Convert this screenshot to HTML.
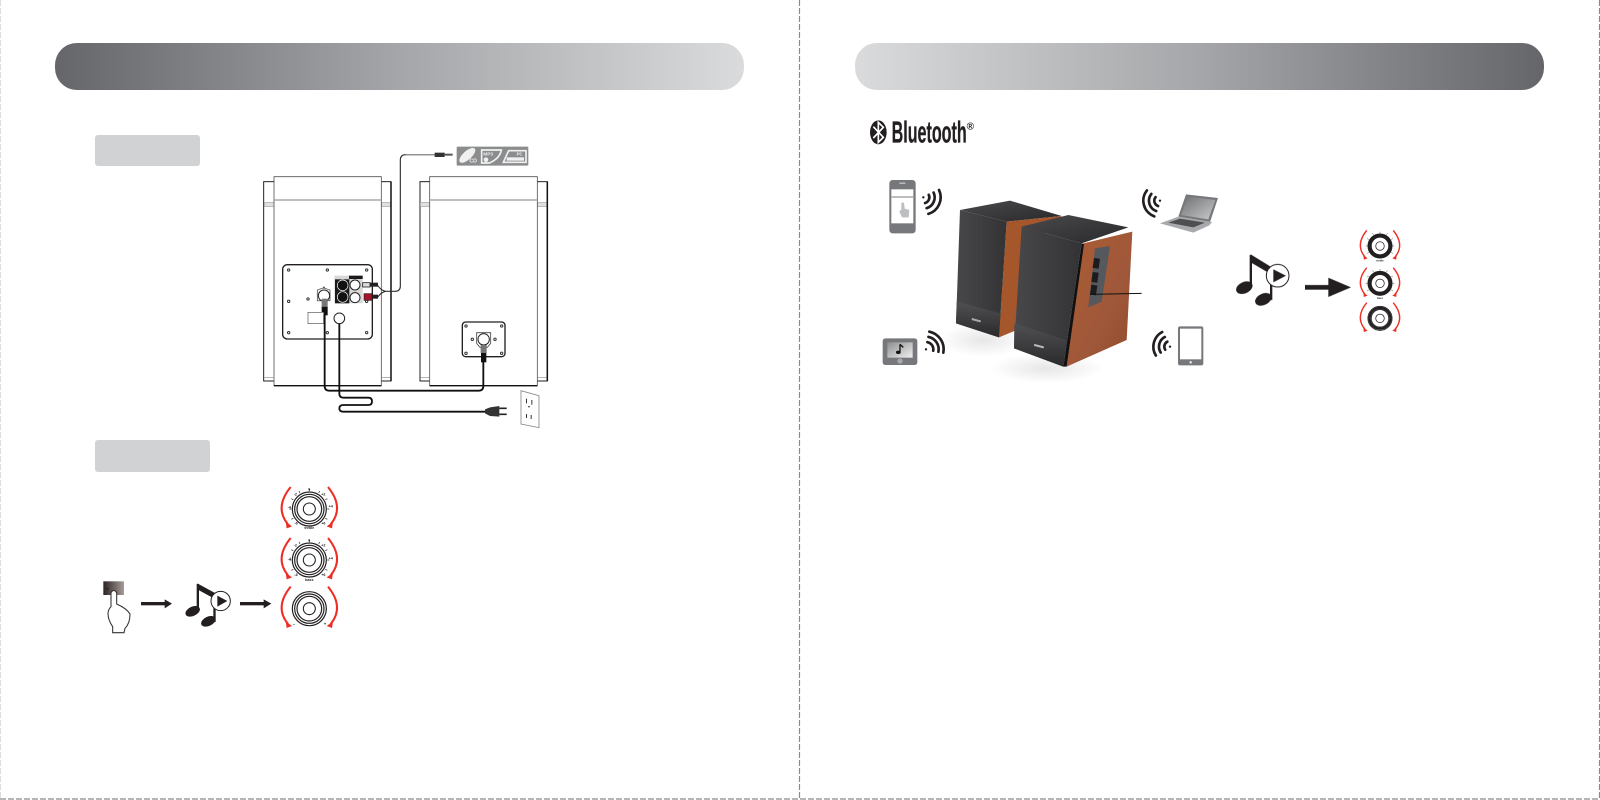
<!DOCTYPE html>
<html><head><meta charset="utf-8"><style>
html,body{margin:0;padding:0;background:#fff;width:1600px;height:800px;overflow:hidden}
svg{display:block;font-family:"Liberation Sans",sans-serif}
.soft{filter:blur(.45px)}
</style></head><body>
<svg width="1600" height="800" viewBox="0 0 1600 800" xmlns="http://www.w3.org/2000/svg">
<defs>
<linearGradient id="hl"><stop offset="0" stop-color="#65666a"/><stop offset=".5" stop-color="#a5a6a9"/><stop offset="1" stop-color="#dadbdc"/></linearGradient>
<linearGradient id="hr"><stop offset="0" stop-color="#dadbdc"/><stop offset=".5" stop-color="#a5a6a9"/><stop offset="1" stop-color="#65666a"/></linearGradient>
<linearGradient id="btn"><stop offset="0" stop-color="#2a2422"/><stop offset="1" stop-color="#a89d99"/></linearGradient>
<linearGradient id="front" x1="0" y1="0" x2="1" y2="0"><stop offset="0" stop-color="#48484a"/><stop offset="1" stop-color="#333335"/></linearGradient>
<linearGradient id="top" x1="0" y1="0" x2="1" y2="1"><stop offset="0" stop-color="#4a4a4d"/><stop offset="1" stop-color="#29292b"/></linearGradient>
<linearGradient id="wood" x1="0" y1="0" x2="1" y2="1"><stop offset="0" stop-color="#ab5c32"/><stop offset=".6" stop-color="#a0583a"/><stop offset="1" stop-color="#8f4c2c"/></linearGradient>
<linearGradient id="bez" x1="0" y1="0" x2="0" y2="1"><stop offset="0" stop-color="#505052"/><stop offset="1" stop-color="#2a2a2c"/></linearGradient>
<linearGradient id="scr" x1="0" y1="0" x2="1" y2="1"><stop offset="0" stop-color="#8d8e90"/><stop offset="1" stop-color="#f0f0f0"/></linearGradient>
<linearGradient id="lap" x1="0" y1="0" x2="1" y2="1"><stop offset="0" stop-color="#6f7072"/><stop offset="1" stop-color="#c9cacc"/></linearGradient>
<radialGradient id="refl"><stop offset="0" stop-color="#e6e6e6"/><stop offset="1" stop-color="#fff"/></radialGradient>
<g id="knob">
 <g fill="none" stroke="#231f20">
  <circle r="51" stroke-width="3.6"/><circle r="44" stroke-width="3.6"/><circle r="37" stroke-width="3.6"/><circle r="18" stroke-width="3.2"/>
 </g>
 <g fill="none" stroke="#ee2e24" stroke-width="6">
  <path d="M-56,-66 Q-106,-5 -64,46"/><path d="M56,-66 Q106,-5 64,46"/>
 </g>
 <g fill="#ee2e24"><polygon points="-71,38 -52,52 -68,58"/><polygon points="71,38 52,52 68,58"/></g>
</g>
<g id="ticks" stroke="#231f20" stroke-width="2">
 <path d="M0,-54V-60M-28,-48L-31,-54M28,-48L31,-54M-48,-28L-54,-31M48,-28L54,-31M-54,0H-60M54,0H60M-48,28L-54,31M48,28L54,31"/>
</g>
</defs>

<rect width="1600" height="800" fill="#fff"/>
<g fill="none" stroke="#8a8a8c" stroke-width="1.2" stroke-dasharray="6 2">
 <path d="M799.5,0V799"/><path d="M0,799H1600"/><path d="M1599.5,0V799"/>
</g>
<path d="M0.5,0V799" stroke="#dcdcdc" stroke-dasharray="6 2" fill="none"/>

<rect x="55" y="43" width="689" height="47" rx="22" fill="url(#hl)"/>
<rect x="855" y="43" width="689" height="47" rx="22" fill="url(#hr)"/>
<rect x="95" y="135" width="105" height="31" rx="3" fill="#d1d2d4"/>
<rect x="95" y="440" width="115" height="32" rx="3" fill="#d1d2d4"/>

<g class="soft" transform="translate(240,130) scale(.33333)">
 <g fill="#fff" stroke="#231f20" stroke-width="3">
  <rect x="71" y="155" width="382" height="598"/>
  <rect x="540" y="155" width="382" height="598"/>
 </g>
 <g stroke="#9a9a9c" stroke-width="2" fill="#e0e0e0">
  <rect x="73" y="218" width="29" height="11"/><rect x="424" y="218" width="28" height="11"/>
  <rect x="541" y="218" width="28" height="11"/><rect x="892" y="218" width="29" height="11"/>
 </g>
 <g fill="#fff" stroke="#555" stroke-width="2.5">
  <path d="M102,767V140H424V767Z"/><path d="M569,767V140H892V767Z"/>
 </g>
 <path d="M102,767H424M569,767H892" stroke="#111" stroke-width="4"/>
 <path d="M102,210H424M569,210H892" stroke="#999" stroke-width="3.5"/>
 <path d="M73,743H102M424,743H452M541,743H569M892,743H921" stroke="#888" stroke-width="2"/>
 <path d="M453,155V753M922,155V753" stroke="#111" stroke-width="4.5"/>
 <rect x="128" y="404" width="269" height="223" rx="14" fill="#fff" stroke="#231f20" stroke-width="4"/>
 <g fill="none" stroke="#333" stroke-width="3">
  <circle cx="146" cy="420" r="3.5"/><circle cx="262" cy="420" r="3.5"/><circle cx="380" cy="420" r="3.5"/>
  <circle cx="146" cy="514" r="3.5"/><circle cx="204" cy="507" r="3.5"/><circle cx="380" cy="514" r="3.5"/>
  <circle cx="146" cy="608" r="3.5"/><circle cx="262" cy="608" r="3.5"/><circle cx="380" cy="608" r="3.5"/>
 </g>
 <rect x="283" y="437" width="85" height="83" fill="#d8d8d8"/>
 <rect x="285" y="448" width="43" height="72" fill="#1a1a1a"/>
 <rect x="327" y="437" width="41" height="10" fill="#1a1a1a"/>
 <circle cx="308" cy="466" r="16" fill="#111" stroke="#fff" stroke-width="2"/>
 <circle cx="308" cy="501" r="16" fill="#111" stroke="#fff" stroke-width="2"/>
 <circle cx="345" cy="465" r="15" fill="#fff" stroke="#222" stroke-width="3"/>
 <circle cx="345" cy="503" r="15" fill="#fff" stroke="#222" stroke-width="3"/>
 <path d="M232,480L250,474L270,480V512H232Z" fill="#fff" stroke="#555" stroke-width="2.5"/>
 <circle cx="252" cy="497" r="17" fill="#fff" stroke="#222" stroke-width="3"/>
 <rect x="250" y="470" width="4" height="4" fill="#222"/>
 <rect x="245" y="506" width="18" height="24" fill="#777"/>
 <rect x="245" y="530" width="18" height="26" fill="#111"/>
 <rect x="204" y="547" width="47" height="34" fill="#fff" stroke="#555" stroke-width="2"/>
 <circle cx="298" cy="565" r="16" fill="#fff" stroke="#222" stroke-width="3"/>
 <rect x="667" y="576" width="128" height="104" rx="10" fill="#fff" stroke="#231f20" stroke-width="4"/>
 <g fill="none" stroke="#333" stroke-width="3">
  <circle cx="678" cy="588" r="3.5"/><circle cx="785" cy="588" r="3.5"/><circle cx="678" cy="670" r="3.5"/><circle cx="785" cy="670" r="3.5"/>
  <circle cx="697" cy="628" r="3.5"/><circle cx="765" cy="628" r="3.5"/>
 </g>
 <path d="M710,608H752V640L742,652H720L710,640Z" fill="#fff" stroke="#444" stroke-width="2.5"/>
 <circle cx="731" cy="628" r="17" fill="#fff" stroke="#222" stroke-width="3"/>
 <rect x="722" y="645" width="18" height="24" fill="#777"/>
 <rect x="723" y="669" width="16" height="28" fill="#111"/>
 <g fill="none" stroke="#111" stroke-width="5.5">
  <path d="M254,555V768Q254,782 268,782H716Q730,782 730,768V695"/>
  <path d="M298,582V790Q298,803 311,803H385Q396,803 396,814Q396,825 385,825H310Q298,825 298,835Q298,845 310,845H740"/>
 </g>
 <path d="M592,74H497Q481,74 481,90V468Q481,484 465,484H440" fill="none" stroke="#333" stroke-width="3.5"/>
 <path d="M592,74H497" stroke="#999" stroke-width="3"/>
 <path d="M440,484Q425,484 412,465M440,484Q425,484 412,503" fill="none" stroke="#222" stroke-width="3"/>
 <rect x="584" y="68" width="30" height="13" fill="#333"/><rect x="614" y="71" width="24" height="6" fill="#555"/>
 <rect x="368" y="458" width="22" height="13" fill="#ddd" stroke="#222" stroke-width="2.5"/>
 <rect x="390" y="458" width="24" height="12" fill="#222"/>
 <rect x="372" y="491" width="24" height="20" fill="#a3142a" stroke="#222" stroke-width="2"/>
 <rect x="396" y="494" width="18" height="12" fill="#222"/>
 <polygon points="735,838 750,832 778,828 778,860 750,858 735,850" fill="#333"/>
 <path d="M778,835H800M778,853H800" stroke="#222" stroke-width="5"/>
 <polygon points="843,782 897,797 897,893 843,882" fill="#fff" stroke="#888" stroke-width="2.5"/>
 <g fill="#333"><rect x="858" y="806" width="3" height="14"/><rect x="874" y="810" width="3" height="14"/><circle cx="867" cy="830" r="2.5"/>
 <rect x="858" y="852" width="3" height="12"/><rect x="872" y="855" width="3" height="12"/></g>
 <rect x="650" y="50" width="215" height="57" rx="3" fill="#8b8c8e"/>
 <ellipse cx="682" cy="76" rx="30" ry="13" transform="rotate(-42 682 76)" fill="#f0f0f0"/>
 <text x="688" y="97" font-size="16" font-weight="700" fill="#f0f0f0">CD</text>
 <path d="M725,60H784Q780,85 748,99H725Z" fill="#8b8c8e" stroke="#f0f0f0" stroke-width="5"/>
 <text x="730" y="76" font-size="14" font-weight="700" fill="#f0f0f0">MP3</text>
 <circle cx="738" cy="89" r="7" fill="#f0f0f0"/>
 <path d="M806,62H858V97H790Z" fill="#8b8c8e" stroke="#f0f0f0" stroke-width="5"/>
 <text x="830" y="77" font-size="13" font-weight="700" fill="#f0f0f0">PC</text>
 <rect x="800" y="82" width="52" height="10" fill="#f0f0f0"/>
</g>

<g class="soft" transform="translate(80,460) scale(.33333)">
 <rect x="70" y="364" width="62" height="41" fill="url(#btn)"/>
 <text x="78" y="392" font-size="14" font-weight="700" fill="#111">+</text>
 <path d="M93,440V398Q101,385 110,398V432Q140,445 150,462Q150,490 135,505L132,518H98V500Q84,480 84,460Q85,448 93,440Z" fill="#fff" stroke="#333" stroke-width="3.2"/>
 <g fill="#231f20">
  <rect x="183" y="426" width="74" height="10"/><polygon points="254,418 276,431 254,445"/>
  <rect x="480" y="426" width="74" height="10"/><polygon points="551,418 574,431 551,445"/>
  <rect x="350" y="372" width="7" height="85"/>
  <polygon points="352,370 418,406 418,424 352,388"/>
  <rect x="400" y="420" width="7" height="66"/>
  <ellipse cx="338" cy="454" rx="23" ry="14" transform="rotate(-25 338 454)"/>
  <ellipse cx="385" cy="484" rx="23" ry="14" transform="rotate(-25 385 484)"/>
 </g>
 <circle cx="422" cy="423" r="29" fill="#fff" stroke="#231f20" stroke-width="3"/>
 <polygon points="412,407 442,423 412,440" fill="#231f20"/>
 <use href="#knob" x="688" y="147"/><use href="#ticks" x="688" y="147"/>
 <use href="#knob" x="688" y="300"/><use href="#ticks" x="688" y="300"/>
 <use href="#knob" x="688" y="446"/>
 <g font-size="11" font-weight="700" fill="#231f20" text-anchor="middle">
  <text x="688" y="92">0</text><text x="646" y="106">-2</text><text x="730" y="106">+2</text><text x="628" y="145">-4</text><text x="752" y="143">+4</text><text x="648" y="194">-6</text><text x="730" y="194">+6</text>
  <text x="688" y="207">treble</text>
  <text x="688" y="245">0</text><text x="646" y="260">-2</text><text x="730" y="260">+2</text><text x="628" y="300">-4</text><text x="752" y="298">+4</text><text x="648" y="348">-6</text><text x="730" y="348">+6</text>
  <text x="688" y="363">bass</text>
  <text x="642" y="497" font-size="16">-</text><text x="735" y="496" font-size="13">+</text>
 </g>
</g>

<g class="soft" transform="translate(850,110) scale(.33333)">
 <ellipse cx="85" cy="67" rx="25" ry="36" fill="#231f20"/>
 <path d="M70,50L100,82L85,97V37L100,52L70,84" fill="none" stroke="#fff" stroke-width="5"/>
 <text x="125" y="98" font-size="92" font-weight="700" fill="#231f20" stroke="#231f20" stroke-width="1" textLength="225" lengthAdjust="spacingAndGlyphs">Bluetooth</text>
 <text x="350" y="58" font-size="30" font-weight="700" fill="#231f20">®</text>

 <ellipse cx="400" cy="690" rx="130" ry="50" fill="url(#refl)"/>
 <ellipse cx="590" cy="775" rx="170" ry="45" fill="url(#refl)"/>
 <polygon points="330,300 480,272 635,318 470,335" fill="url(#top)"/>
 <polygon points="470,335 635,318 560,400 500,660 447,682" fill="#a5562a"/>
 <polygon points="330,300 470,335 447,682 318,640" fill="url(#front)"/>
 <polygon points="320,575 452,610 447,682 318,640" fill="url(#bez)"/>
 <rect x="365" y="628" width="28" height="6" fill="#aaa" transform="rotate(15 380 630)"/>
 <polygon points="515,350 655,315 835,352 695,400" fill="url(#top)"/>
 <polygon points="700,400 847,365 830,690 650,770" fill="url(#wood)"/>
 <polygon points="515,350 695,400 640,770 492,715" fill="url(#front)"/>
 <polygon points="695,400 702,402 650,770 640,770" fill="#111"/>
 <polygon points="493,640 648,690 640,770 492,715" fill="url(#bez)"/>
 <rect x="552" y="705" width="30" height="6" fill="#bbb" transform="rotate(15 565 708)"/>
 <polygon points="735,415 780,408 755,575 715,592" fill="#55585c"/>
 <g fill="#1c1c1e"><rect x="730" y="445" width="18" height="30" transform="rotate(8 739 460)"/><rect x="726" y="487" width="18" height="30" transform="rotate(8 735 502)"/><rect x="722" y="525" width="18" height="30" transform="rotate(8 731 540)"/></g>
 <path d="M720,553L875,550" stroke="#111" stroke-width="3" fill="none"/>

 <rect x="118" y="210" width="79" height="160" rx="10" fill="#77787b"/>
 <rect x="124" y="238" width="66" height="102" fill="#fff"/>
 <rect x="124" y="258" width="66" height="6" fill="#bcbec0"/>
 <rect x="148" y="218" width="18" height="3" fill="#ddd"/>
 <path d="M154,278L162,278L164,296L178,300L176,322H156L148,304L154,298Z" fill="#bcbec0"/>
 <rect x="98" y="685" width="104" height="80" rx="8" fill="#77787b"/>
 <rect x="112" y="697" width="76" height="46" fill="url(#scr)"/>
 <path d="M150,703V725" stroke="#111" stroke-width="4"/><path d="M150,703L160,712" stroke="#111" stroke-width="4"/>
 <ellipse cx="145" cy="727" rx="7" ry="5" fill="#111"/>
 <circle cx="150" cy="753" r="8" fill="#a7a9ac"/>
 <rect x="984" y="649" width="76" height="117" rx="6" fill="#77787b"/>
 <rect x="990" y="656" width="64" height="92" fill="#fff"/>
 <rect x="1019" y="754" width="6" height="6" fill="#fff"/>
 <polygon points="1008,253 1104,264 1080,336 985,320" fill="#77787b"/>
 <polygon points="1013,260 1096,270 1075,328 993,315" fill="url(#lap)"/>
 <polygon points="930,340 985,320 1086,336 1078,346 1030,368" fill="#a7a9ac"/>
 <polygon points="955,338 990,326 1065,338 1030,352" fill="#4e4f51"/>
 <g fill="none" stroke="#231f20" stroke-width="8" stroke-linecap="round">
  <path d="M236.3,254.4A18,18 0 0 1 225.3,279.2M250.8,247.6A34,34 0 0 1 229.9,294.5M267.1,240A52,52 0 0 1 235.2,311.7"/>
  <path d="M232.2,696.4A22,22 0 0 1 249.6,722.2M235.3,680.7A38,38 0 0 1 265.3,725.3M238,665A54,54 0 0 1 280,728"/>
  <path d="M916.6,261.5A17,17 0 0 0 924.2,288M904,251.7A33,33 0 0 0 918.7,303M890.6,241.2A50,50 0 0 0 912.9,319"/>
  <path d="M952,695A17,17 0 0 0 945.6,719M944.5,680.9A33,33 0 0 0 932,727.5M936.5,666A50,50 0 0 0 917.6,736.5"/>
 </g>
 <g fill="#231f20"><circle cx="220" cy="262" r="3.5"/><circle cx="228" cy="718" r="3.5"/><circle cx="930" cy="272" r="3.5"/><circle cx="960" cy="710" r="3.5"/></g>
</g>

<g class="soft" transform="translate(1200,210) scale(.33333)">
 <g fill="#231f20">
  <rect x="149" y="135" width="7" height="95"/>
  <polygon points="152,133 222,176 222,198 152,157"/>
  <rect x="210" y="185" width="7" height="85"/>
  <ellipse cx="133" cy="233" rx="26" ry="17" transform="rotate(-25 133 233)"/>
  <ellipse cx="190" cy="268" rx="26" ry="17" transform="rotate(-25 190 268)"/>
  <rect x="315" y="225" width="72" height="14"/>
  <polygon points="385,203 453,232 385,261"/>
 </g>
 <circle cx="233" cy="197" r="34" fill="#fff" stroke="#231f20" stroke-width="3"/>
 <polygon points="220,178 258,197 220,217" fill="#231f20"/>
 <g transform="translate(540,108) scale(.71)"><circle r="44" fill="none" stroke="#231f20" stroke-width="14"/><use href="#knob"/><use href="#ticks"/></g>
 <g transform="translate(540,220) scale(.71)"><circle r="44" fill="none" stroke="#231f20" stroke-width="14"/><use href="#knob"/><use href="#ticks"/></g>
 <g transform="translate(540,325) scale(.71)"><circle r="44" fill="none" stroke="#231f20" stroke-width="10"/><use href="#knob"/></g>
 <g font-size="8" font-weight="700" fill="#231f20" text-anchor="middle">
  <text x="540" y="155">treble</text><text x="540" y="267">bass</text>
 </g>
</g>
</svg>
</body></html>
